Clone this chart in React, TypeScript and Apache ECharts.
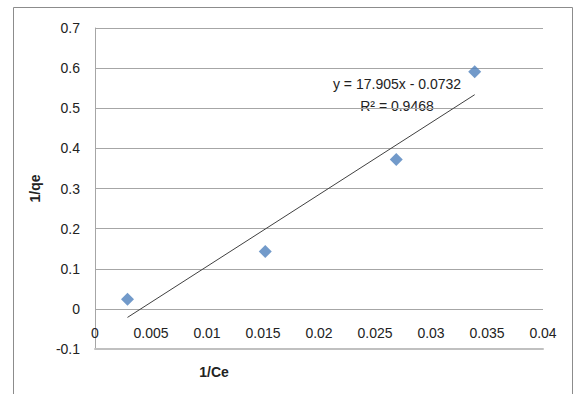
import React, { useEffect, useRef } from "react";
import * as echarts from "echarts";

const invCe = [0.0029, 0.0152, 0.0269, 0.0339];
const invQe = [0.024, 0.143, 0.372, 0.591];
const slope = 17.905;
const intercept = -0.0732;
const equationText = "y = 17.905x - 0.0732";
const r2Text = "R\u00b2 = 0.9468";
const xTitle = "1/Ce";
const yTitle = "1/qe";

const fmt = (v: number) => String(parseFloat(v.toFixed(4)));

export default function App() {
  const ref = useRef<HTMLDivElement>(null);
  useEffect(() => {
    if (!ref.current) return;
    const chart = echarts.init(ref.current, null, { renderer: "svg" });
    const points = invCe.map((x, i) => [x, invQe[i]]);
    const xs = [Math.min(...invCe), Math.max(...invCe)];
    const trend = xs.map((x) => [x, slope * x + intercept]);
    const font = "Liberation Sans, Arial, sans-serif";
    chart.setOption({
      animation: false,
      backgroundColor: "#ffffff",
      textStyle: { fontFamily: font },
      grid: { left: 95, top: 28, right: 31, bottom: 45, containLabel: false },
      xAxis: {
        type: "value",
        min: 0,
        max: 0.04,
        interval: 0.005,
        axisLine: { show: true, onZero: false, lineStyle: { color: "#c0c0c0", width: 2 } },
        axisTick: { show: false },
        splitLine: { show: false },
        axisLabel: { color: "#222", fontSize: 14, fontFamily: font, margin: -23, formatter: fmt },
      },
      yAxis: {
        type: "value",
        min: -0.1,
        max: 0.7,
        interval: 0.1,
        name: yTitle,
        nameLocation: "middle",
        nameRotate: 90,
        nameGap: 53,
        nameTextStyle: { fontWeight: "bold", fontSize: 14, color: "#222", fontFamily: font },
        axisLine: { show: true, lineStyle: { color: "#a6a6a6", width: 1 } },
        axisTick: { show: false },
        splitLine: { show: true, lineStyle: { color: "#a6a6a6", width: 1 } },
        axisLabel: { color: "#222", fontSize: 14, fontFamily: font, margin: 15, formatter: fmt },
      },
      series: [
        {
          type: "line",
          data: trend,
          showSymbol: false,
          symbol: "none",
          lineStyle: { color: "#404040", width: 1 },
          silent: true,
          z: 2,
        },
        {
          type: "scatter",
          data: points,
          symbol: "diamond",
          symbolSize: 13,
          itemStyle: { color: "#4F81BD" },
          z: 3,
        },
      ],
      graphic: [
        {
          type: "rect",
          shape: { x: 13.5, y: 7.5, width: 559, height: 420 },
          style: { fill: "none", stroke: "#8c8c8c", lineWidth: 1 },
          silent: true,
        },
        {
          type: "text",
          x: 214,
          y: 372,
          style: {
            text: xTitle,
            fontWeight: "bold",
            fontSize: 14,
            fontFamily: font,
            fill: "#222",
            align: "center",
            verticalAlign: "middle",
          },
        },
        {
          type: "text",
          x: 397,
          y: 84,
          style: {
            text: equationText,
            fontSize: 14,
            fontFamily: font,
            fill: "#222",
            align: "center",
            verticalAlign: "middle",
          },
        },
        {
          type: "text",
          x: 397,
          y: 106,
          style: {
            text: r2Text,
            fontSize: 14,
            fontFamily: font,
            fill: "#222",
            align: "center",
            verticalAlign: "middle",
          },
        },
      ],
    });
    return () => chart.dispose();
  }, []);
  return (
    <div
      ref={ref}
      style={{ position: "fixed", left: 0, top: 0, width: 574, height: 394 }}
    />
  );
}
